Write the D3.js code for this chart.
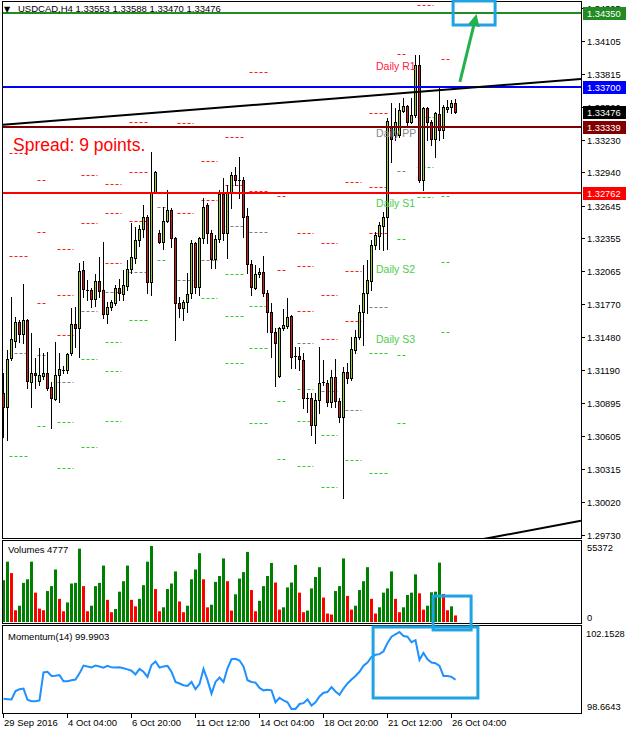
<!DOCTYPE html>
<html><head><meta charset="utf-8">
<script src="https://cdn.jsdelivr.net/npm/d3@7"></script>
<style>
body{margin:0;background:#fff}
svg{display:block}
text{font-family:'Liberation Sans',Arial,sans-serif}
</style>
</head><body>
<svg id="c" width="626" height="734"></svg>
<script>
// ---------------- DATA ----------------
const symbol = "USDCAD,H4";
const opens = [1.30987,1.30864,1.31298,1.31448,1.31616,1.31511,1.31634,1.31085,1.31165,1.31094,
1.31139,1.31165,1.31041,1.30934,1.31148,1.31183,1.31192,1.31342,1.31599,1.31563,
1.32077,1.31900,1.31900,1.31820,1.31979,1.31900,1.31688,1.31749,1.31784,1.31917,
1.31864,1.31935,1.32086,1.32183,1.32343,1.32440,1.32546,1.31970,1.32767,1.32404,
1.32325,1.32511,1.32608,1.32360,1.31784,1.31740,1.31793,1.31873,1.32316,1.31926,
1.32360,1.32652,1.32404,1.32175,1.32352,1.32750,1.32404,1.32758,1.32919,1.32874,
1.32874,1.32555,1.32130,1.31917,1.32042,1.32059,1.31873,1.31705,1.31528,1.31139,
1.31563,1.31581,1.31670,1.31310,1.31316,1.31280,1.30943,1.30943,1.30704,1.30926,
1.31076,1.31076,1.30908,1.31130,1.30917,1.30775,1.31174,1.31121,1.31369,1.31484,
1.31705,1.31873,1.31979,1.32298,1.32378,1.32467,1.32546,1.33352,1.33272,1.33272,
1.33485,1.33529,1.33387,1.33449,1.33892,1.32874,1.33511,1.33387,1.33237,1.33458,
1.33317,1.33502,1.33520,1.33553];
const highs = [1.31165,1.31369,1.31838,1.31661,1.31634,1.31953,1.31643,1.31515,1.31298,1.31386,
1.31342,1.31351,1.31085,1.31439,1.31342,1.31227,1.31342,1.31740,1.31749,1.32139,
1.32157,1.31988,1.31917,1.32042,1.32192,1.32325,1.31793,1.31811,1.31944,1.31997,
1.32077,1.32166,1.32493,1.32458,1.32476,1.32652,1.32564,1.33122,1.32954,1.32431,
1.32635,1.32785,1.32626,1.32369,1.31838,1.31811,1.32050,1.32343,1.32325,1.32369,
1.32714,1.32670,1.32431,1.32387,1.32785,1.32892,1.32830,1.32945,1.32989,1.33078,
1.32901,1.32626,1.32166,1.32121,1.32095,1.32201,1.31900,1.31784,1.31563,1.31572,
1.31732,1.31829,1.31679,1.31395,1.31395,1.31342,1.30987,1.30987,1.30987,1.31395,
1.31280,1.31103,1.31192,1.31289,1.30943,1.31218,1.31254,1.31484,1.31546,1.31767,
1.32121,1.32166,1.32343,1.32413,1.32502,1.32590,1.33423,1.33556,1.33511,1.33556,
1.33600,1.33538,1.33600,1.33981,1.33981,1.33520,1.33520,1.33405,1.33476,1.33697,
1.33538,1.33582,1.33582,1.33588];
const lows = [1.30598,1.30572,1.31280,1.31395,1.31439,1.31430,1.31032,1.30864,1.31032,1.31059,
1.31112,1.31014,1.30678,1.30926,1.30908,1.31165,1.31165,1.31325,1.31395,1.31307,
1.31838,1.31811,1.31749,1.31758,1.31838,1.31652,1.31607,1.31723,1.31767,1.31811,
1.31811,1.31900,1.32050,1.32139,1.32290,1.32369,1.31873,1.31856,1.32758,1.32316,
1.32263,1.32502,1.32281,1.31457,1.31661,1.31634,1.31705,1.31829,1.31873,1.31856,
1.32316,1.32316,1.32095,1.32095,1.32325,1.32343,1.32183,1.32626,1.32830,1.32714,
1.32369,1.32050,1.31856,1.31908,1.32015,1.31847,1.31528,1.31307,1.31050,1.31130,
1.31546,1.31563,1.31209,1.31209,1.31192,1.30855,1.30820,1.30616,1.30545,1.30811,
1.31059,1.30873,1.30864,1.30864,1.30731,1.30058,1.31076,1.31103,1.31342,1.31466,
1.31413,1.31696,1.31900,1.32263,1.32263,1.32254,1.32263,1.33033,1.33228,1.33255,
1.33476,1.33343,1.33378,1.33432,1.32856,1.32785,1.33228,1.33183,1.33077,1.33228,
1.33246,1.33476,1.33467,1.33470];
const closes = [1.30864,1.31289,1.31466,1.31616,1.31511,1.31634,1.31094,1.31165,1.31148,1.31148,
1.31165,1.31032,1.30943,1.31148,1.31200,1.31192,1.31334,1.31599,1.31563,1.32068,
1.31908,1.31895,1.31820,1.31979,1.31891,1.31688,1.31749,1.31793,1.31917,1.31873,
1.31944,1.32086,1.32192,1.32343,1.32440,1.32546,1.31970,1.32767,1.32945,1.32325,
1.32511,1.32608,1.32360,1.31784,1.31740,1.31793,1.31864,1.32316,1.31926,1.32360,
1.32635,1.32404,1.32175,1.32352,1.32750,1.32404,1.32758,1.32919,1.32874,1.32865,
1.32546,1.32130,1.31926,1.32042,1.32059,1.31873,1.31705,1.31528,1.31430,1.31563,
1.31590,1.31661,1.31307,1.31305,1.31289,1.30943,1.30934,1.30704,1.30926,1.31076,
1.31085,1.30908,1.31130,1.30917,1.30775,1.31174,1.31121,1.31377,1.31484,1.31705,
1.31873,1.31988,1.32298,1.32387,1.32476,1.32546,1.33396,1.33237,1.33387,1.33494,
1.33529,1.33387,1.33449,1.33892,1.32874,1.33511,1.33387,1.33237,1.33467,1.33317,
1.33520,1.33520,1.33556,1.33476];
const volumes = [30413,43956,35640,8554,11880,28512,31126,43956,21384,9742,
8554,22572,26136,38254,16870,7841,14256,28037,28512,53460,
26136,7841,11880,26136,28512,41105,16157,7128,9504,22097,
29700,41105,16157,11405,16870,26849,43956,55372,23998,7841,
10692,23998,28037,36828,14969,7128,11880,31126,38254,50134,
31126,10692,12593,29225,33502,46332,29700,8316,20196,31601,
36353,51084,23285,7841,15444,26136,33502,43006,28750,9029,
10692,25186,28750,41580,21384,7128,8316,24473,32789,39917,
17820,6178,5465,22572,26136,46332,19008,9029,11880,23285,
29700,39917,16870,6178,10692,21384,24473,36828,16870,7128,
10692,19721,21384,34690,20909,9029,11880,21622,22097,43243,
20434,8554,11405,4777];
const momentum = [99.125,99.11,99.095,99.48,99.56,99.59,99.08,99.02,99.02,99.05,
100.32,100.35,100.16,100.17,100.20,99.92,99.92,99.97,100.00,100.28,
100.63,100.59,100.55,100.63,100.59,100.54,100.62,100.55,100.54,100.55,
100.51,100.46,100.40,100.23,100.48,100.35,100.12,100.66,100.82,100.54,
100.59,100.62,100.35,99.89,99.82,99.74,99.71,99.89,99.56,99.79,
100.48,99.97,99.36,99.89,100.09,99.89,100.51,100.92,100.94,100.86,
100.59,99.97,99.89,99.86,99.62,99.51,99.54,99.51,98.97,99.17,
99.05,98.97,98.66,98.6643,98.89,98.93,99.10,98.82,98.97,99.23,
99.40,99.43,99.66,99.46,99.31,99.59,99.82,100.00,100.16,100.35,
100.63,100.77,101.02,101.12,101.15,101.28,101.66,101.94,102.05,102.1528,
101.97,101.94,101.69,101.78,100.89,101.20,100.92,100.77,100.74,100.62,
100.16,100.16,100.12,99.9903];
const priceTicks = [1.34395,1.34105,1.33815,1.33520,1.33230,1.32940,1.32645,1.32355,1.32065,1.31770,1.31480,1.31190,1.30895,1.30605,1.30315,1.30020,1.29730];
const timeLabels = ["29 Sep 2016","4 Oct 04:00","6 Oct 20:00","11 Oct 12:00","14 Oct 04:00","18 Oct 20:00","21 Oct 12:00","26 Oct 04:00"];
const timeLabelBars = [0,16,32,48,64,80,96,112];
const hLevels = [1.34350,1.33700,1.33339,1.32762];
const volMaxLabel = 55372;
const momRange = [98.6643,102.1528];
// daily pivot levels (start bar, length in bars, resistances, pivot, supports)
const pivotStart = [2,9,14,20,26,32,39,44,50,56,62,69,74,80,86,92,99,104,110];
const pivotLen = [5,2.5,4,4,4,5,2.5,4,4,4.5,5,2.5,4,4,4,5,2.5,4,2.5];
const pivotR = [[1.33113,1.32201],[1.32874,1.32413,1.31784],[1.32263,1.31856,1.31502],[1.32919,1.32493],[1.32839,1.32581,1.32139],[1.33387,1.32945,1.32511],[],[1.33378,1.32581],[1.33042,1.32697],[1.33255,1.32830],[1.33830,1.32776],[1.32732,1.32077],[1.32404,1.32113,1.31714],[1.32316,1.31856,1.31466],[1.32856,1.32068,1.31625],[1.33467,1.32812,1.32404],[1.33990],[1.34424],[1.33946]];
const pivotPP = [1.31342,1.31325,1.31085,1.31714,1.31882,1.32059,1.32635,1.31988,1.32166,1.32467,1.32413,1.31564,1.31430,1.31005,1.30837,1.31749,1.32954,null,1.33352];
const pivotS = [[1.30430],[1.30696],[1.30731,1.30324],[1.31289,1.30510],[1.31439,1.31183,1.30740],[1.31634],[1.32166],[],[1.31829],[1.32042,1.31670,1.31253],[1.31758,1.31386,1.30722],[1.30917,1.30404],[1.31023,1.30740,1.30342],[1.30616,1.30155],[1.30395],[1.31342,1.30279],[1.32352,1.31325,1.30722],[1.33432,1.32989,1.32723],[1.32732,1.32148,1.31528]];
const dailyLabels = ["Daily R1","Daily PP","Daily S1","Daily S2","Daily S3"];
const spreadText = "Spread: 9 points.";
// trend lines: [bar, price] anchors (rays to the right)
const trend1Bars = [0,113], trend1Prices = [1.33362,1.33680];
const trend2Bars = [113,144], trend2Prices = [1.29646,1.29851];
// highlight annotations (bar range + value range)
const boxTopBars = [112.4,122.9], boxTopPrices = [1.34246,1.34459];
const arrowBars = [114.1,117.9], arrowPrices = [1.33742,1.34291];
const boxVolBars = [107.4,116.9], boxVolValues = [-5800,18900];
const boxMomBars = [92.4,118.6], boxMomValues = [99.163,102.379];

// ---------------- DRAW ----------------
const svg = d3.select('#c');
const n = closes.length;
const x = d3.scaleLinear().domain([0,113]).range([3.5,455.5]);
const y = d3.scaleLinear().domain([1.29701,1.34441]).range([538,3]);
const yv = d3.scaleLinear().domain([0,volMaxLabel]).range([622,546]);
const ym = d3.scaleLinear().domain(momRange).range([709,632]);
const RIGHT = 581;
const AX = 9.3;

const defs = svg.append('defs');
defs.append('clipPath').attr('id','cm').append('rect').attr('x',3).attr('y',2).attr('width',RIGHT-3).attr('height',536);
defs.append('clipPath').attr('id','cv').append('rect').attr('x',3).attr('y',541).attr('width',RIGHT-3).attr('height',82);
defs.append('clipPath').attr('id','cmo').append('rect').attr('x',3).attr('y',626).attr('width',RIGHT-3).attr('height',87);
defs.append('marker').attr('id','arr').attr('viewBox','0 0 10 10').attr('refX',5).attr('refY',5)
  .attr('markerWidth',4).attr('markerHeight',4).attr('orient','auto')
  .append('path').attr('d','M0,0 L10,5 L0,10 z').attr('fill','#22b14c');

const main = svg.append('g').attr('clip-path','url(#cm)');

// pivot dashes
const pivColors = {R:'#ff1a1a',P:'#808080',S:'#2ecc2e'};
pivotStart.forEach((s,i)=>{
  const x0 = x(s)-2, x1 = x0 + 4*pivotLen[i];
  const levels = [];
  pivotR[i].forEach(v=>levels.push([v,'R']));
  if(pivotPP[i]!=null) levels.push([pivotPP[i],'P']);
  pivotS[i].forEach(v=>levels.push([v,'S']));
  levels.forEach(([v,t])=>{
    const yy = Math.round(y(v))+0.5;
    main.append('line').attr('x1',x0).attr('x2',x1).attr('y1',yy).attr('y2',yy)
      .attr('stroke',pivColors[t]).attr('stroke-width',1).attr('stroke-dasharray','3,2');
  });
});

// candles
const idx = d3.range(n);
main.selectAll('line.wick').data(idx).join('line').attr('class','wick')
  .attr('x1',i=>x(i)).attr('x2',i=>x(i))
  .attr('y1',i=>Math.round(y(highs[i]))).attr('y2',i=>Math.round(y(lows[i]))+1)
  .attr('stroke','#000').attr('stroke-width',1);
idx.forEach(i=>{
  const yo = Math.round(y(opens[i])), yc = Math.round(y(closes[i]));
  const top = Math.min(yo,yc), h = Math.abs(yo-yc);
  const bull = closes[i] >= opens[i];
  if(h < 2){
    main.append('line').attr('x1',x(i)-1.5).attr('x2',x(i)+1.5).attr('y1',top+0.5).attr('y2',top+0.5)
      .attr('stroke','#000').attr('stroke-width',1);
  } else {
    main.append('rect').attr('x',x(i)-1).attr('y',top+0.5).attr('width',2).attr('height',h)
      .attr('fill',bull?'#9acd32':'#d81818').attr('stroke','#000').attr('stroke-width',1);
  }
});

// daily labels (current day levels)
const last = pivotStart.length-1;
const curLevels = [pivotR[last][0], pivotPP[last], ...pivotS[last]];
const labelColors = ['#ff2244','#888888','#4ccc4c','#4ccc4c','#4ccc4c'];
dailyLabels.forEach((t,k)=>{
  main.append('text').attr('x',x(93)+0.5).attr('y',y(curLevels[k])+11)
    .attr('font-size',10.5).attr('fill',labelColors[k]).text(t);
});

// horizontal levels
const hColors = ['#228B22','#0000ff','#800000','#ff0000'];
hLevels.forEach((v,k)=>{
  const yy = Math.round(y(v));
  main.append('line').attr('x1',3).attr('x2',RIGHT).attr('y1',yy).attr('y2',yy)
    .attr('stroke',hColors[k]).attr('stroke-width',2);
});

// trend lines (rays extended to the right edge)
function rayLine(bars, prices, fromLeft){
  const slope = (prices[1]-prices[0])/(bars[1]-bars[0]);
  const b0 = fromLeft ? x.invert(3) : bars[0];
  const b1 = x.invert(RIGHT);
  main.append('line')
    .attr('x1',x(b0)).attr('y1',y(prices[0]+slope*(b0-bars[0])))
    .attr('x2',x(b1)).attr('y2',y(prices[0]+slope*(b1-bars[0])))
    .attr('stroke','#000').attr('stroke-width',2);
}
rayLine(trend1Bars,trend1Prices,true);
rayLine(trend2Bars,trend2Prices,false);

// spread text
main.append('text').attr('x',13).attr('y',151).attr('font-size',17.5).attr('fill','#ff0000').text(spreadText);

// header
svg.append('text').attr('x',4).attr('y',12).attr('font-size',8).attr('fill','#000')
  .style('font-family','DejaVu Sans').text('▼');
const f5 = d3.format('.5f');
svg.append('text').attr('x',18).attr('y',12).attr('font-size',9.5).attr('fill','#000')
  .text(symbol+'  '+[opens[n-1],highs[n-1],lows[n-1],closes[n-1]].map(f5).join(' '));

// volume panel
const vg = svg.append('g').attr('clip-path','url(#cv)');
vg.selectAll('rect').data(idx).join('rect')
  .attr('x',i=>x(i)-1.5).attr('width',3)
  .attr('y',i=>yv(volumes[i])).attr('height',i=>622-yv(volumes[i]))
  .attr('fill',i=>(i===0||volumes[i]>=volumes[i-1])?'#008000':'#ff0000');
svg.append('text').attr('x',8).attr('y',553).attr('font-size',9.5).text('Volumes '+volumes[n-1]);

// momentum panel
const mg = svg.append('g').attr('clip-path','url(#cmo)');
mg.append('path').datum(idx).attr('d',d3.line().x(i=>x(i)).y(i=>ym(momentum[i])))
  .attr('fill','none').attr('stroke','#1e90ff').attr('stroke-width',2);
svg.append('text').attr('x',8).attr('y',640).attr('font-size',9.5).text('Momentum(14) '+momentum[n-1].toFixed(4));

// frames
const frames = [[1.5,537],[540.5,83],[625.5,88]];
frames.forEach(([t,h])=>{
  svg.append('rect').attr('x',2.5).attr('y',t).attr('width',RIGHT-2).attr('height',h)
    .attr('fill','none').attr('stroke','#000').attr('stroke-width',1);
});

// price axis
priceTicks.forEach(v=>{
  const yy = Math.round(y(v))+0.5;
  svg.append('line').attr('x1',RIGHT).attr('x2',RIGHT+4).attr('y1',yy).attr('y2',yy).attr('stroke','#000');
  svg.append('text').attr('x',587).attr('y',yy+3.5).attr('font-size',AX).text(f5(v));
});
// level labels
function tag(v,col){
  const yy = Math.round(y(v));
  svg.append('rect').attr('x',583).attr('y',yy-6).attr('width',43).attr('height',13).attr('fill',col);
  svg.append('text').attr('x',587).attr('y',yy+4).attr('font-size',AX).attr('fill','#fff').text(f5(v));
}
hLevels.forEach((v,k)=>tag(v,hColors[k]));
tag(closes[n-1],'#000');

// volume / momentum axis labels
svg.append('text').attr('x',587).attr('y',551).attr('font-size',AX).text(String(volMaxLabel));
svg.append('text').attr('x',587).attr('y',621).attr('font-size',AX).text('0');
svg.append('text').attr('x',586).attr('y',637).attr('font-size',AX).text(momRange[1].toFixed(4));
svg.append('text').attr('x',587).attr('y',710).attr('font-size',AX).text(momRange[0].toFixed(4));

// time axis
timeLabels.forEach((t,k)=>{
  const xx = x(timeLabelBars[k]);
  svg.append('line').attr('x1',xx).attr('x2',xx).attr('y1',713).attr('y2',718).attr('stroke','#000');
  svg.append('text').attr('x',xx+0.5).attr('y',726).attr('font-size',9.5).text(t);
});

// highlight annotations
const hl = '#1fa3e3';
function box(x0,x1,y0,y1){
  svg.append('rect').attr('x',Math.min(x0,x1)).attr('y',Math.min(y0,y1))
    .attr('width',Math.abs(x1-x0)).attr('height',Math.abs(y1-y0))
    .attr('fill','none').attr('stroke',hl).attr('stroke-width',3);
}
box(x(boxTopBars[0]),x(boxTopBars[1]),y(boxTopPrices[0]),y(boxTopPrices[1]));
box(x(boxVolBars[0]),x(boxVolBars[1]),yv(boxVolValues[0]),yv(boxVolValues[1]));
box(x(boxMomBars[0]),x(boxMomBars[1]),ym(boxMomValues[0]),ym(boxMomValues[1]));
svg.append('line').attr('x1',x(arrowBars[0])).attr('y1',y(arrowPrices[0]))
  .attr('x2',x(arrowBars[1])).attr('y2',y(arrowPrices[1]))
  .attr('stroke','#22b14c').attr('stroke-width',3).attr('marker-end','url(#arr)');
</script>
</body></html>
